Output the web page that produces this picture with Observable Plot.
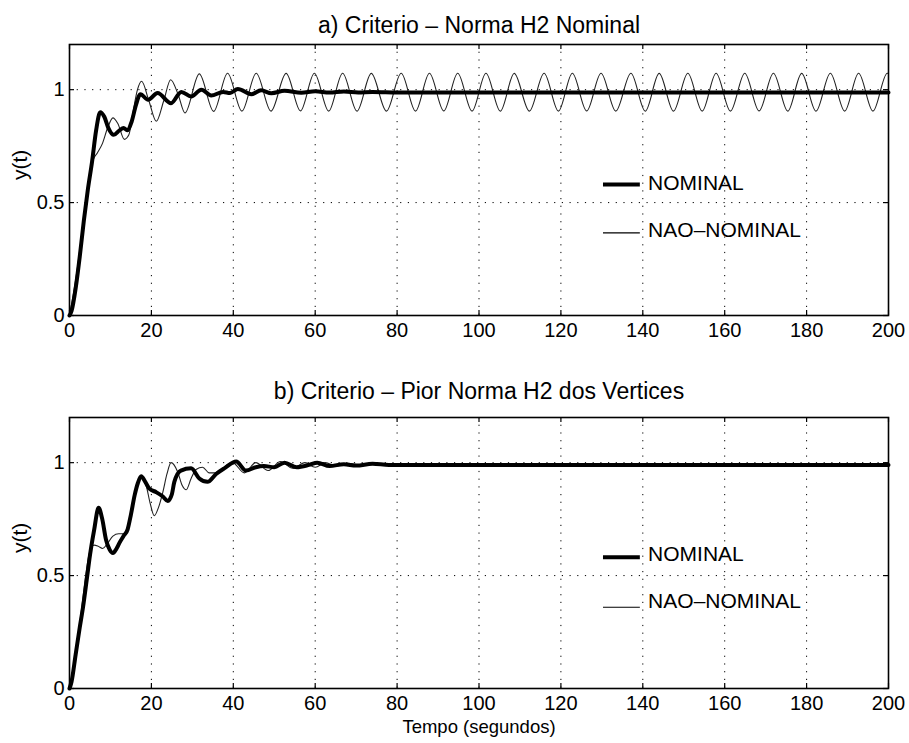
<!DOCTYPE html>
<html>
<head>
<meta charset="utf-8">
<script src="https://cdn.jsdelivr.net/npm/d3@7"></script>
<script src="https://cdn.jsdelivr.net/npm/@observablehq/plot@0.6"></script>
<style>
  html, body { margin: 0; padding: 0; background: #fff; }
  #chart { width: 909px; height: 743px; }
  #chart svg { display: block; }
</style>
</head>
<body>
<div id="chart"></div>
<script>
// ---------- tick labels / text ----------
const xTicks = [0, 20, 40, 60, 80, 100, 120, 140, 160, 180, 200];
const yTicks = [0, 0.5, 1];
const titles = ["a) Criterio – Norma H2 Nominal", "b) Criterio – Pior Norma H2 dos Vertices"];
const seriesNames = ["NOMINAL", "NAO–NOMINAL"];
const yLabel = "y(t)";
const xLabel = "Tempo (segundos)";

// ---------- panel a : NOMINAL (thick) ----------
const aNomT = [0, 0.5, 1.5, 2.5, 3.5, 4.5, 5.5, 6.5, 7.5, 8.5, 9.5, 10.8, 12.2, 13.2, 14.2, 15.2, 16.2, 17.3,
  19.2, 21.5, 24.8, 27.3, 29.7, 32.2, 34.6, 37.5, 39.2, 41.1, 44.4, 46.8, 49.3, 52.5, 56.6, 60, 63.5, 67, 70.5, 74, 80, 100, 200];
const aNomY = [0, 0.02, 0.12, 0.26, 0.42, 0.56, 0.68, 0.82, 0.9, 0.88, 0.83, 0.8, 0.82, 0.83, 0.82, 0.86, 0.93, 0.98,
  0.955, 0.985, 0.94, 0.99, 0.97, 1.0, 0.974, 0.99, 0.985, 1.003, 0.98, 0.997, 0.984, 0.995, 0.986, 0.993, 0.987, 0.992, 0.988, 0.99, 0.988, 0.987, 0.987];

// ---------- panel a : NAO-NOMINAL (thin) ----------
const aNaoT = [0, 1, 2, 3, 4, 5, 5.8, 6.8, 8, 9.3, 10.6, 11.8, 13.4, 14.5, 15.5, 16.6, 17.6, 19.4, 21.2, 23, 24.7, 26.5, 28.2,
  31.7, 35.2, 38.6, 42.1, 45.6, 49.2, 52.9, 56.4, 59.8, 63.3, 66.7, 70.2, 73.7, 77.4, 81.0, 84.5, 87.9, 91.4, 94.8, 98.3,
  101.7, 105.2, 108.6, 112.3, 115.9, 119.4, 122.8, 126.3, 129.8, 133.4, 137.1, 140.6, 144.0, 147.5, 151.0, 154.5, 157.9,
  161.4, 164.9, 168.4, 171.9, 175.4, 178.8, 182.3, 185.8, 189.3, 192.7, 196.2, 199.7, 200];
const aNaoY = [0, 0.1, 0.22, 0.36, 0.5, 0.62, 0.69, 0.72, 0.76, 0.83, 0.875, 0.85, 0.78, 0.8, 0.9, 1.0, 1.037, 0.95, 0.86, 0.95, 1.044, 0.98, 0.897,
  1.07, 0.904, 1.073, 0.905, 1.073, 0.905, 1.072, 0.906, 1.073, 0.905, 1.073, 0.905, 1.072, 0.905, 1.073, 0.905, 1.073, 0.906, 1.073, 0.905,
  1.073, 0.905, 1.072, 0.905, 1.073, 0.905, 1.073, 0.906, 1.073, 0.905, 1.073, 0.905, 1.072, 0.905, 1.073, 0.905, 1.073,
  0.905, 1.073, 0.906, 1.073, 0.905, 1.072, 0.905, 1.073, 0.905, 1.073, 0.905, 1.073, 1.072];

// ---------- panel b : NOMINAL (thick) ----------
const bNomT = [0, 0.5, 1.5, 2.5, 3.3, 4.2, 5, 6, 7.1, 8, 8.9, 9.8, 10.6, 11.5, 12.2, 13.2, 14.2, 15, 15.9, 16.7, 17.5, 18.5, 19.5,
  21.1, 22.8, 24, 25, 25.6, 27.2, 29.7, 31.7, 33.7, 35.8, 37.8, 40.7, 43.1, 45.5, 47.5, 50, 52.5, 55.5, 58.5, 60.5, 63.5, 67, 70, 74, 78, 85, 200];
const bNomY = [0, 0.03, 0.15, 0.27, 0.36, 0.48, 0.59, 0.7, 0.8, 0.75, 0.66, 0.615, 0.6, 0.62, 0.645, 0.675, 0.705, 0.77, 0.855, 0.91, 0.94, 0.915, 0.885,
  0.87, 0.85, 0.83, 0.86, 0.915, 0.965, 0.975, 0.93, 0.915, 0.95, 0.975, 1.005, 0.965, 0.98, 0.985, 0.98, 1.0, 0.98, 0.99, 1.0, 0.985, 0.993, 0.987, 0.995, 0.99, 0.99, 0.99];

// ---------- panel b : NAO-NOMINAL (thin) ----------
const bNaoT = [0, 1, 2, 3, 4.1, 5, 6, 7, 8.1, 9.2, 10.6, 12, 13, 14.2, 15, 15.9, 16.7, 17.5, 18.7, 19.7, 20.7, 21.7, 22.8, 23.8, 24.8,
  26.4, 27.5, 28.5, 29.7, 30.9, 32.5, 34.1, 35.5, 37, 39.8, 42.7, 45.5, 48.5, 51.5, 54.5, 57.5, 60, 62.5, 65, 68, 71.5, 74.5, 78, 85, 200];
const bNaoY = [0, 0.1, 0.22, 0.36, 0.52, 0.61, 0.635, 0.63, 0.62, 0.64, 0.675, 0.685, 0.685, 0.705, 0.77, 0.855, 0.91, 0.935, 0.9, 0.82, 0.765, 0.8, 0.87, 0.95, 1.0,
  0.96, 0.9, 0.88, 0.93, 0.97, 0.98, 0.955, 0.955, 0.97, 1.0, 0.955, 1.0, 0.965, 1.005, 0.975, 1.0, 0.98, 1.0, 0.985, 0.997, 0.988, 0.997, 0.99, 0.99, 0.99];

const FONT = "'Liberation Sans', Arial, Helvetica, sans-serif";
const W = 909, ML = 69, MR = 21;

function panel(o) {
  const nom = o.nomT.map((t, i) => ({t, y: o.nomY[i]}));
  const nao = o.naoT.map((t, i) => ({t, y: o.naoY[i]}));
  const frameH = o.height - o.marginTop - o.marginBottom;
  const frameW = W - ML - MR;
  const grid = {stroke: "#000", strokeOpacity: 1, strokeWidth: 1, strokeDasharray: "1.2,6.5"};
  const marks = [
    Plot.gridX(xTicks.slice(1, -1), grid),
    Plot.gridY(yTicks.slice(1), grid),
    Plot.line(nao, {x: "t", y: "y", stroke: "#222", strokeWidth: 1.1, curve: "monotone-x"}),
    Plot.line(nom, {x: "t", y: "y", stroke: "#000", strokeWidth: 4, curve: "monotone-x", strokeLinejoin: "round"}),
    Plot.frame({stroke: "#000", strokeWidth: 1.6}),
    // inward ticks on all four sides
    Plot.tickX(xTicks, {x: d => d, insetTop: frameH - 5, stroke: "#000", strokeWidth: 1.2}),
    Plot.tickX(xTicks, {x: d => d, insetBottom: frameH - 5, stroke: "#000", strokeWidth: 1.2}),
    Plot.tickY(yTicks, {y: d => d, insetRight: frameW - 5, stroke: "#000", strokeWidth: 1.2}),
    Plot.tickY(yTicks, {y: d => d, insetLeft: frameW - 5, stroke: "#000", strokeWidth: 1.2}),
    Plot.axisX({ticks: xTicks, tickSize: 0, tickPadding: 7, label: null, tickFormat: d => String(d), fontSize: 20}),
    Plot.axisY({ticks: yTicks, tickSize: 0, tickPadding: 5, label: null, tickFormat: d => String(d), fontSize: 20}),
    // legend
    Plot.ruleY([o.legendY[0]], {x1: 130.4, x2: 139.4, stroke: "#000", strokeWidth: 4}),
    Plot.ruleY([o.legendY[1]], {x1: 130.4, x2: 139.4, stroke: "#000", strokeWidth: 1.1}),
    Plot.text(seriesNames.slice(0, 1), {x: 141.3, y: () => o.legendY[0], dy: o.legendDy[0], textAnchor: "start", fontSize: 21, fill: "#000"}),
    Plot.text(seriesNames.slice(1), {x: 141.3, y: () => o.legendY[1], dy: o.legendDy[1], textAnchor: "start", fontSize: 21, fill: "#000"}),
    // title & y label
    Plot.text([o.title], {frameAnchor: "top", dy: o.titleDy, fontSize: 23, fill: "#000"}),
    Plot.text([yLabel], {frameAnchor: "left", dx: -49, rotate: -90, fontSize: 21, fill: "#000"})
  ];
  if (o.xlabel) marks.push(Plot.text([o.xlabel], {frameAnchor: "bottom", dy: 44, fontSize: 18.5, fill: "#000"}));
  return Plot.plot({
    width: W, height: o.height,
    marginLeft: ML, marginRight: MR, marginTop: o.marginTop, marginBottom: o.marginBottom,
    x: {domain: [0, 200]},
    y: {domain: [0, 1.2]},
    clip: false,
    style: {fontFamily: FONT, fontSize: "20px", color: "#000", background: "#fff", overflow: "visible"},
    marks
  });
}

const chart = document.getElementById("chart");
chart.append(panel({
  title: titles[0], nomT: aNomT, nomY: aNomY, naoT: aNaoT, naoY: aNaoY,
  legendY: [0.58, 0.366], legendDy: [-1, -3], height: 372, marginTop: 44, marginBottom: 57, titleDy: -28
}));
chart.append(panel({
  title: titles[1], nomT: bNomT, nomY: bNomY, naoT: bNaoT, naoY: bNaoY,
  legendY: [0.581, 0.36], legendDy: [-3, -6], height: 371, marginTop: 45, marginBottom: 55, titleDy: -35, xlabel: xLabel
}));
</script>
</body>
</html>
